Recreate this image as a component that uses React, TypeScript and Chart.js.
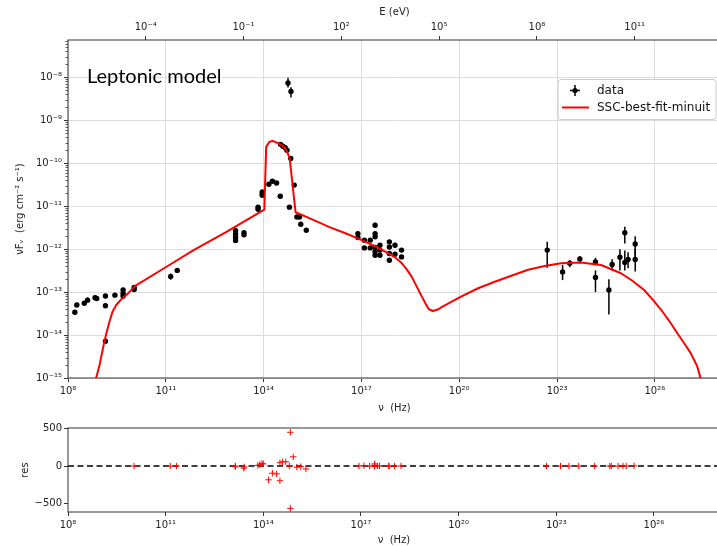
import React, { useEffect, useRef } from 'react';
import { Chart, registerables } from 'chart.js';
Chart.register(...registerables);

// ---------- constants ----------
const H_EV = 4.135667e-15; // Planck constant in eV s (for the top E axis)

const NU_MIN = 1e8;
const NU_MAX = 1.07e28;
const FLUX_MIN = 1e-15;
const FLUX_MAX = 7.4e-8;
const RES_MIN = -614;
const RES_MAX = 508;

// ---------- tick labels ----------
const nuTickExps = [8, 11, 14, 17, 20, 23, 26];
const eTickExps = [-4, -1, 2, 5, 8, 11];
const fluxTickExps = [-15, -14, -13, -12, -11, -10, -9, -8];
const resTicks = [-500, 0, 500];

// ---------- observed SED (nu [Hz], nuFnu [erg cm^-2 s^-1]) ----------
const dataNu = [
  // radio
  1.62e8, 1.86e8, 3.16e8, 3.98e8, 6.76e8, 7.6e8, 1.41e9, 1.41e9, 1.41e9, 2.75e9,
  4.9e9, 4.9e9, 4.9e9, 1.07e10, 1.07e10,
  // mm
  1.41e11, 2.24e11,
  // IR / optical / UV
  1.38e13, 1.38e13, 1.38e13, 1.38e13, 2.5e13, 2.5e13, 6.76e13, 6.76e13,
  9.1e13, 9.1e13, 9.1e13, 1.45e14, 1.86e14, 2.5e14, 3.24e14,
  3.3e14, 3.9e14, 4.6e14, 5.2e14, 5.6e14, 6.9e14, 6.8e14, 6.2e14, 8.7e14,
  1.05e15, 1.26e15, 1.38e15, 2.04e15,
  // X-ray
  7.8e16, 7.8e16, 1.23e17, 1.23e17, 1.86e17, 1.86e17,
  2.63e17, 2.63e17, 2.63e17, 2.63e17, 2.63e17, 2.63e17,
  3.7e17, 3.7e17, 3.7e17, 7.2e17, 7.2e17, 7.2e17, 7.2e17,
  1.07e18, 1.07e18, 1.7e18, 1.7e18,
  // gamma-ray
  5.0e22, 1.48e23, 2.45e23, 5.0e23, 1.51e24, 1.51e24, 3.9e24, 4.9e24,
  8.5e24, 1.2e25, 1.2e25, 1.51e25, 2.5e25, 2.5e25,
];
const dataFlux = [
  3.4e-14, 5.0e-14, 5.5e-14, 6.5e-14, 7.4e-14, 7.1e-14, 8.1e-14, 4.8e-14, 7.2e-15, 8.5e-14,
  1.12e-13, 9.3e-14, 8.1e-14, 1.29e-13, 1.15e-13,
  2.3e-13, 3.2e-13,
  2.7e-12, 2.25e-12, 1.9e-12, 1.6e-12, 2.4e-12, 2.15e-12, 9.5e-12, 8.5e-12,
  2.14e-11, 1.95e-11, 1.8e-11, 3.24e-11, 3.8e-11, 3.47e-11, 1.7e-11,
  2.75e-10, 2.5e-10, 2.3e-10, 2.0e-10, 7.4e-9, 4.7e-9, 1.29e-10, 9.5e-12, 3.1e-11,
  5.6e-12, 5.6e-12, 3.8e-12, 2.75e-12,
  2.3e-12, 1.86e-12, 1.62e-12, 1.07e-12, 1.62e-12, 1.07e-12,
  3.6e-12, 2.3e-12, 1.95e-12, 1.1e-12, 8.7e-13, 7.2e-13,
  1.23e-12, 9.5e-13, 7.2e-13, 1.48e-12, 1.12e-12, 7.9e-13, 5.5e-13,
  1.23e-12, 7.6e-13, 9.5e-13, 6.6e-13,
  9.5e-13, 2.95e-13, 4.7e-13, 5.9e-13, 5.0e-13, 2.2e-13, 1.12e-13, 4.4e-13,
  6.5e-13, 2.4e-12, 4.9e-13, 5.75e-13, 1.32e-12, 5.75e-13,
];

// ---------- error bars (nu, lower, upper) ----------
const errNu = [
  3.98e8, 4.9e9, 4.9e9, 1.41e11, 2.24e11, 1.38e13, 5.6e14, 6.9e14, 2.63e17,
  5.0e22, 1.48e23, 2.45e23, 5.0e23, 1.51e24, 1.51e24, 3.9e24, 4.9e24,
  8.5e24, 1.2e25, 1.2e25, 1.51e25, 2.5e25, 2.5e25,
];
const errLo = [
  5.7e-14, 1.0e-13, 7.1e-14, 1.95e-13, 2.8e-13, 1.38e-12, 5.8e-9, 3.4e-9, 3.2e-12,
  3.7e-13, 1.9e-13, 3.8e-13, 4.7e-13, 4.2e-13, 1.0e-13, 3.0e-14, 3.2e-13,
  3.2e-13, 1.35e-12, 3.2e-13, 3.6e-13, 6.0e-13, 3.0e-13,
];
const errHi = [
  7.5e-14, 1.26e-13, 9.2e-14, 2.7e-13, 3.6e-13, 3.1e-12, 9.8e-9, 5.9e-9, 4.1e-12,
  1.48e-12, 4.3e-13, 5.5e-13, 6.9e-13, 6.3e-13, 3.2e-13, 2.0e-13, 5.8e-13,
  1.0e-12, 3.3e-12, 9.3e-13, 8.5e-13, 2.0e-12, 1.02e-12,
];

// ---------- SSC best-fit model ----------
const modelNu = [
  6.31e8, 7.08e8, 9.33e8, 1.32e9, 1.86e9, 2.34e9, 3.02e9, 4.27e9, 6.76e9, 1.12e10,
  1.05e11, 6.92e11, 7.24e12, 1.05e14, 1.2e14, 1.51e14, 1.91e14, 2.75e14, 4.37e14,
  5.5e14, 6.31e14, 9.55e14, 3.63e15, 1.0e16, 3.24e16, 1.02e17, 2.63e17, 6.76e17,
  1.07e18, 1.74e18, 2.45e18, 3.47e18, 4.9e18, 7.08e18, 9.33e18, 1.17e19, 1.58e19,
  2.29e19, 2.88e19, 1.17e20, 3.8e20, 1.23e21, 3.98e21, 1.29e22, 4.17e22, 1.32e23,
  5.37e23, 2.24e24, 9.12e24, 2.0e25, 4.68e25, 8.51e25, 1.51e26, 2.82e26, 4.9e26,
  7.94e26, 1.26e27, 2.0e27, 2.51e27, 2.82e27,
];
const modelFlux = [
  6.31e-16, 9.12e-16, 2.04e-15, 7.41e-15, 2.04e-14, 3.55e-14, 5.01e-14, 6.76e-14, 9.12e-14, 1.38e-13,
  3.89e-13, 9.33e-13, 2.51e-12, 8.32e-12, 2.4e-10, 3.16e-10, 3.31e-10, 2.95e-10, 2.4e-10,
  1.7e-10, 1.29e-10, 7.24e-12, 4.68e-12, 3.31e-12, 2.34e-12, 1.62e-12, 1.17e-12, 7.94e-13,
  6.46e-13, 4.68e-13, 3.39e-13, 2.29e-13, 1.38e-13, 7.94e-14, 5.37e-14, 3.98e-14, 3.63e-14,
  3.98e-14, 4.47e-14, 7.94e-14, 1.23e-13, 1.74e-13, 2.4e-13, 3.31e-13, 4.07e-13, 4.68e-13,
  4.9e-13, 4.27e-13, 2.75e-13, 1.86e-13, 1.12e-13, 6.76e-14, 3.98e-14, 2.09e-14, 1.1e-14,
  6.46e-15, 3.8e-15, 1.86e-15, 1.02e-15, 6.31e-16,
];

// ---------- residuals ----------
const resNu = [
  1.07e10, 1.38e11, 2.14e11,
  1.38e13, 1.38e13, 2.5e13, 2.6e13, 6.76e13, 7.9e13, 9.1e13, 1.0e14,
  1.45e14, 1.9e14, 2.57e14, 3.24e14, 3.24e14, 3.9e14, 4.9e14, 6.76e14, 6.76e14,
  6.3e14, 8.3e14, 1.07e15, 1.41e15, 2.04e15,
  8.7e16, 1.23e17, 1.86e17, 2.63e17, 2.63e17, 2.63e17, 3.2e17, 3.7e17, 7.2e17, 7.2e17,
  1.07e18, 1.7e18,
  5.0e22, 1.35e23, 2.45e23, 4.9e23, 1.51e24, 4.4e24, 4.9e24, 7.9e24, 1.12e25, 1.41e25, 2.45e25,
];
const resVal = [
  0, 0, 0,
  0, -10, -28, -12, 8, 18, 35, 28,
  -184, -96, -105, -197, 44, 57, 57, 451, -566,
  0, 123, -15, -8, -40,
  0, 5, 0, 10, -8, 28, 0, 3, 2, -4,
  0, 0,
  0, 0, 0, 0, 0, 0, 0, 0, 0, 0, 2,
];

// ---------- helpers ----------
const SUP: Record<string, string> = {
  '0': '⁰', '1': '¹', '2': '²', '3': '³', '4': '⁴', '5': '⁵', '6': '⁶', '7': '⁷', '8': '⁸', '9': '⁹', '-': '⁻',
};
const pow10Label = (v: number) =>
  '10' + String(Math.round(Math.log10(v))).split('').map((c) => SUP[c] || c).join('');

const FONT = "'DejaVu Sans', sans-serif";
const TICK_FONT = { family: FONT, size: 10 };
const TITLE_FONT = { family: FONT, size: 10 };
const GRID_COLOR = '#dcdcdc';
const SPINE = '#333333';

const frameAndMinor = (withMinor: boolean) => ({
  id: 'frameMinor',
  afterDraw(chart: any) {
    const { ctx, chartArea } = chart;
    ctx.save();
    ctx.strokeStyle = SPINE;
    ctx.lineWidth = 1;
    ctx.strokeRect(chartArea.left, chartArea.top, chartArea.right - chartArea.left, chartArea.bottom - chartArea.top);
    if (withMinor) {
      const ys = chart.scales.y;
      ctx.lineWidth = 0.8;
      for (const d of fluxTickExps) {
        for (let m = 2; m <= 9; m++) {
          const v = m * Math.pow(10, d);
          if (v > FLUX_MAX) continue;
          const py = Math.round(ys.getPixelForValue(v)) + 0.5;
          ctx.beginPath();
          ctx.moveTo(chartArea.left - 2.5, py);
          ctx.lineTo(chartArea.left, py);
          ctx.stroke();
        }
      }
    }
    ctx.restore();
  },
});

const errorBarPlugin = {
  id: 'errbars',
  beforeDatasetsDraw(chart: any) {
    const { ctx, chartArea, scales } = chart;
    ctx.save();
    ctx.beginPath();
    ctx.rect(chartArea.left, chartArea.top, chartArea.right - chartArea.left, chartArea.bottom - chartArea.top);
    ctx.clip();
    ctx.strokeStyle = '#000';
    ctx.lineWidth = 1.5;
    errNu.forEach((nu, i) => {
      const x = scales.x.getPixelForValue(nu);
      ctx.beginPath();
      ctx.moveTo(x, scales.y.getPixelForValue(errLo[i]));
      ctx.lineTo(x, scales.y.getPixelForValue(errHi[i]));
      ctx.stroke();
    });
    ctx.restore();
  },
};

const legendPlugin = {
  id: 'customLegend',
  afterDraw(chart: any) {
    const { ctx, chartArea } = chart;
    ctx.save();
    // annotation
    ctx.fillStyle = '#000';
    ctx.font = "20px Lato, 'Open Sans', sans-serif";
    ctx.textBaseline = 'alphabetic';
    ctx.textAlign = 'left';
    ctx.fillText('Leptonic model', chartArea.left + 19, chartArea.top + 43);

    // legend box
    const bx = chartArea.right - 163;
    const by = chartArea.top + 39.5;
    const bw = 158;
    const bh = 40;
    const r = 3;
    ctx.beginPath();
    ctx.moveTo(bx + r, by);
    ctx.lineTo(bx + bw - r, by);
    ctx.quadraticCurveTo(bx + bw, by, bx + bw, by + r);
    ctx.lineTo(bx + bw, by + bh - r);
    ctx.quadraticCurveTo(bx + bw, by + bh, bx + bw - r, by + bh);
    ctx.lineTo(bx + r, by + bh);
    ctx.quadraticCurveTo(bx, by + bh, bx, by + bh - r);
    ctx.lineTo(bx, by + r);
    ctx.quadraticCurveTo(bx, by, bx + r, by);
    ctx.closePath();
    ctx.fillStyle = 'rgba(255,255,255,0.92)';
    ctx.fill();
    ctx.strokeStyle = '#cccccc';
    ctx.lineWidth = 1;
    ctx.stroke();

    const y1 = by + 11;
    const y2 = by + 28;
    // data marker (point with error bars)
    const mx = bx + 17;
    ctx.strokeStyle = '#000';
    ctx.lineWidth = 1.5;
    ctx.beginPath();
    ctx.moveTo(mx, y1 - 5.5);
    ctx.lineTo(mx, y1 + 5.5);
    ctx.moveTo(mx - 5, y1);
    ctx.lineTo(mx + 5, y1);
    ctx.stroke();
    ctx.fillStyle = '#000';
    ctx.beginPath();
    ctx.arc(mx, y1, 2.6, 0, Math.PI * 2);
    ctx.fill();
    // model line
    ctx.strokeStyle = '#ff0000';
    ctx.lineWidth = 2;
    ctx.beginPath();
    ctx.moveTo(bx + 4, y2);
    ctx.lineTo(bx + 31, y2);
    ctx.stroke();
    // texts
    ctx.fillStyle = '#111';
    ctx.font = `12px ${FONT}`;
    ctx.textBaseline = 'middle';
    ctx.fillText('data', bx + 39, y1);
    ctx.fillText('SSC-best-fit-minuit', bx + 39, y2);
    ctx.restore();
  },
};

const logTicks = (exps: number[]) => (scale: any) => {
  scale.ticks = exps.map((e) => ({ value: Math.pow(10, e) }));
};

export default function App() {
  const topRef = useRef<HTMLCanvasElement>(null);
  const botRef = useRef<HTMLCanvasElement>(null);

  useEffect(() => {
    const sedPoints = dataNu.map((x, i) => ({ x, y: dataFlux[i] }));
    const modelPoints = modelNu.map((x, i) => ({ x, y: modelFlux[i] }));
    const resPoints = resNu.map((x, i) => ({ x, y: resVal[i] }));

    const top = new Chart(topRef.current as HTMLCanvasElement, {
      type: 'scatter',
      data: {
        datasets: [
          {
            label: 'SSC-best-fit-minuit',
            data: modelPoints,
            showLine: true,
            borderColor: '#ff0000',
            borderWidth: 2,
            pointRadius: 0,
            fill: false,
            tension: 0,
            borderJoinStyle: 'round',
            order: 0,
            xAxisID: 'x',
            yAxisID: 'y',
          } as any,
          {
            label: 'data',
            data: sedPoints,
            pointRadius: 2.7,
            pointBackgroundColor: '#000',
            pointBorderWidth: 0,
            borderColor: '#000',
            order: 1,
            xAxisID: 'x',
            yAxisID: 'y',
          },
        ],
      },
      options: {
        animation: false,
        responsive: false,
        events: [],
        layout: { padding: { left: 0, right: 1, top: 0, bottom: 0 } },
        plugins: { legend: { display: false }, tooltip: { enabled: false } },
        scales: {
          x: {
            type: 'logarithmic',
            position: 'bottom',
            min: NU_MIN,
            max: NU_MAX,
            afterBuildTicks: logTicks(nuTickExps),
            afterFit: (s: any) => { s.height = 42; },
            ticks: {
              autoSkip: false, maxRotation: 0, padding: 3, color: '#222', font: TICK_FONT,
              callback: (v: any) => pow10Label(Number(v)),
            },
            grid: { color: GRID_COLOR, lineWidth: 1, tickColor: SPINE, tickLength: 4, drawTicks: true },
            border: { display: false },
            title: { display: true, text: 'ν  (Hz)', color: '#222', font: TITLE_FONT, padding: { top: 0, bottom: 6 } },
          },
          xTop: {
            type: 'logarithmic',
            position: 'top',
            min: NU_MIN * H_EV,
            max: NU_MAX * H_EV,
            afterBuildTicks: logTicks(eTickExps),
            afterFit: (s: any) => { s.height = 40; },
            ticks: {
              autoSkip: false, maxRotation: 0, padding: 3, color: '#222', font: TICK_FONT,
              callback: (v: any) => pow10Label(Number(v)),
            },
            grid: { drawOnChartArea: false, tickColor: SPINE, tickLength: 4, drawTicks: true },
            border: { display: false },
            title: { display: true, text: 'E (eV)', color: '#222', font: TITLE_FONT, padding: { top: 6, bottom: 0 } },
          },
          y: {
            type: 'logarithmic',
            position: 'left',
            min: FLUX_MIN,
            max: FLUX_MAX,
            afterBuildTicks: logTicks(fluxTickExps),
            afterFit: (s: any) => { s.width = 68; },
            ticks: {
              autoSkip: false, padding: 2, color: '#222', font: TICK_FONT,
              callback: (v: any) => pow10Label(Number(v)),
            },
            grid: { color: GRID_COLOR, lineWidth: 1, tickColor: SPINE, tickLength: 4, drawTicks: true },
            border: { display: false },
            title: {
              display: true, text: 'νFᵥ  (erg cm⁻² s⁻¹)', color: '#222', font: TITLE_FONT,
              padding: { top: 14, bottom: 0 },
            },
          },
        },
      } as any,
      plugins: [errorBarPlugin, frameAndMinor(true), legendPlugin],
    });

    const bot = new Chart(botRef.current as HTMLCanvasElement, {
      type: 'scatter',
      data: {
        datasets: [
          {
            label: 'res',
            data: resPoints,
            pointStyle: 'cross',
            pointRadius: 3.2,
            pointBorderColor: '#ff0000',
            pointBorderWidth: 1,
            borderColor: '#ff0000',
            order: 0,
          },
          {
            label: 'zero',
            data: [{ x: NU_MIN, y: 0 }, { x: NU_MAX, y: 0 }],
            showLine: true,
            borderColor: '#000',
            borderWidth: 1.5,
            borderDash: [6, 3.5],
            pointRadius: 0,
            fill: false,
            order: 1,
          } as any,
        ],
      },
      options: {
        animation: false,
        responsive: false,
        events: [],
        layout: { padding: { left: 0, right: 1, top: 8, bottom: 0 } },
        plugins: { legend: { display: false }, tooltip: { enabled: false } },
        scales: {
          x: {
            type: 'logarithmic',
            position: 'bottom',
            min: NU_MIN,
            max: NU_MAX,
            afterBuildTicks: logTicks(nuTickExps),
            afterFit: (s: any) => { s.height = 34; },
            ticks: {
              autoSkip: false, maxRotation: 0, padding: 3, color: '#222', font: TICK_FONT,
              callback: (v: any) => pow10Label(Number(v)),
            },
            grid: { drawOnChartArea: false, tickColor: SPINE, tickLength: 4, drawTicks: true },
            border: { display: false },
            title: { display: true, text: 'ν  (Hz)', color: '#222', font: TITLE_FONT, padding: { top: 0, bottom: 0 } },
          },
          y: {
            type: 'linear',
            position: 'left',
            min: RES_MIN,
            max: RES_MAX,
            afterBuildTicks: (s: any) => { s.ticks = resTicks.map((value) => ({ value })); },
            afterFit: (s: any) => { s.width = 68; },
            ticks: {
              autoSkip: false, padding: 2, color: '#222', font: TICK_FONT,
              callback: (v: any) => String(v).replace('-', '−'),
            },
            grid: { drawOnChartArea: false, tickColor: SPINE, tickLength: 4, drawTicks: true },
            border: { display: false },
            title: { display: true, text: 'res', color: '#222', font: TITLE_FONT, padding: { top: 19, bottom: 0 } },
          },
        },
      } as any,
      plugins: [frameAndMinor(false)],
    });

    return () => {
      top.destroy();
      bot.destroy();
    };
  }, []);

  return (
    <div
      style={{
        position: 'absolute', left: 0, top: 0, width: 717, height: 546,
        overflow: 'hidden', background: '#ffffff',
      }}
    >
      <canvas
        ref={topRef}
        width={725}
        height={420}
        style={{ position: 'absolute', left: 0, top: 0, width: 725, height: 420 }}
      />
      <canvas
        ref={botRef}
        width={725}
        height={126}
        style={{ position: 'absolute', left: 0, top: 420, width: 725, height: 126 }}
      />
    </div>
  );
}
